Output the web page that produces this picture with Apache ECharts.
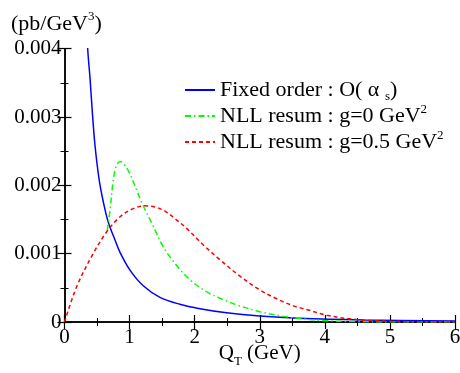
<!DOCTYPE html>
<html>
<head>
<meta charset="utf-8">
<script src="https://cdn.jsdelivr.net/npm/echarts@6/dist/echarts.min.js"></script>
<style>
  html, body { margin: 0; padding: 0; background: #fff; }
  #container { width: 460px; height: 373px; }
</style>
</head>
<body>
<div id="container"></div>
<script>
// values
const xTicks = [0, 1, 2, 3, 4, 5, 6];
const yTicks = [0, 0.001, 0.002, 0.003, 0.004];

const qFixed = [0.30, 0.356, 0.392, 0.427, 0.468, 0.53, 0.596, 0.673, 0.776, 0.853, 1.006, 1.21, 1.467, 1.77, 2.08, 2.49, 3.0, 3.6, 4.6, 6.0];
const fixedOrder = [0.0050, 0.0040, 0.00357, 0.00308, 0.00259, 0.0021, 0.00176, 0.00146, 0.00120, 0.00102, 0.00076, 0.00053, 0.00036, 0.00026, 0.000195, 0.000135, 0.000088, 0.000055, 0.00003, 0.000015];

const qG0 = [0.657, 0.70, 0.75, 0.80, 0.86, 0.92, 1.0, 1.1, 1.2, 1.34, 1.518, 1.72, 1.93, 2.18, 2.39, 2.645, 3.0, 3.26, 3.51, 4.0, 4.5, 5.0, 6.0];
const nllG0 = [0.00134, 0.00164, 0.00208, 0.00230, 0.00235, 0.00230, 0.00218, 0.00195, 0.00172, 0.00145, 0.0011, 0.00083, 0.000615, 0.000444, 0.000347, 0.00025, 0.000151, 0.0001, 0.000063, 0.00002, 0.000005, 0, 0];

const qG05 = [0, 0.187, 0.443, 0.648, 0.853, 1.057, 1.237, 1.40, 1.55, 1.70, 1.877, 2.13, 2.39, 2.67, 3.0, 3.26, 3.51, 3.745, 4.03, 4.44, 5.0, 6.0];
const nllG05 = [0, 0.000517, 0.001006, 0.00132, 0.00154, 0.00166, 0.0017, 0.00168, 0.00162, 0.00151, 0.00137, 0.00113, 0.00091, 0.00069, 0.00047, 0.00034, 0.00024, 0.000176, 0.0001, 0.00004, 0.00001, 0];

const FONT = "Liberation Serif";

function pairs(xs, ys) {
  return xs.map((x, i) => [x, ys[i]]);
}

const legendText = {
  fixed: "Fixed order : O( α {sub|s})",
  g0: "NLL resum : g=0 GeV{sup|2}",
  g05: "NLL resum : g=0.5 GeV{sup|2}",
};

const richText = {
  sub: { fontSize: 13, fontFamily: FONT, color: "#000", verticalAlign: "bottom", lineHeight: 26 },
  sup: { fontSize: 13, fontFamily: FONT, color: "#000", verticalAlign: "top", lineHeight: 26 },
};

const axisCommon = {
  type: "value",
  axisLine: { show: true, lineStyle: { color: "#000", width: 1.5 } },
  axisTick: { show: true, inside: true, length: 7, lineStyle: { color: "#000", width: 1.2 } },
  minorTick: { show: true, splitNumber: 2, length: 4, lineStyle: { color: "#000", width: 1 } },
  splitLine: { show: false },
};

const option = {
  animation: false,
  backgroundColor: "#fff",
  grid: { left: 64.5, right: 5, top: 48.7, bottom: 51, outerBoundsMode: "none", containLabel: false },
  title: {
    text: "(pb/GeV{sup|3})",
    left: 6,
    top: 5,
    textStyle: {
      fontFamily: FONT, fontSize: 22, fontWeight: "normal", color: "#000", lineHeight: 28,
      rich: { sup: { fontSize: 13, fontFamily: FONT, color: "#000", verticalAlign: "top", lineHeight: 28 } },
    },
  },
  legend: {
    orient: "vertical",
    left: 179,
    top: 72,
    itemWidth: 30,
    itemHeight: 10,
    itemGap: 0,
    data: ["fixed", "g0", "g05"],
    formatter: (name) => legendText[name],
    itemStyle: { opacity: 0 },
    textStyle: { fontFamily: FONT, fontSize: 22, color: "#000", lineHeight: 26, rich: richText },
  },
  xAxis: [
    {
      ...axisCommon,
      min: 0, max: 6, interval: 1,
      position: "bottom",
      name: "Q{sub|T} (GeV)",
      nameLocation: "middle",
      nameGap: 16,
      nameMoveOverlap: false,
      nameTextStyle: {
        fontFamily: FONT, fontSize: 21, color: "#000", lineHeight: 24,
        rich: { sub: { fontSize: 13, fontFamily: FONT, color: "#000", verticalAlign: "bottom", lineHeight: 30 } },
      },
      axisLabel: {
        fontFamily: FONT, fontSize: 21, color: "#000", margin: 5,
        formatter: (v) => (xTicks.includes(v) ? String(v) : ""),
      },
    },
    {
      ...axisCommon,
      min: 0, max: 6, interval: 1,
      position: "top",
      axisLabel: { show: false },
    },
  ],
  yAxis: [
    {
      ...axisCommon,
      min: 0, max: 0.004, interval: 0.001,
      position: "left",
      axisLabel: {
        fontFamily: FONT, fontSize: 21, color: "#000", margin: 3,
        formatter: (v) => {
          const t = yTicks.find((y) => Math.abs(y - v) < 1e-9);
          return t === undefined ? "" : t === 0 ? "0" : t.toFixed(3);
        },
      },
    },
    {
      ...axisCommon,
      min: 0, max: 0.004, interval: 0.001,
      position: "right",
      axisLabel: { show: false },
    },
  ],
  series: [
    {
      name: "fixed",
      type: "line",
      data: pairs(qFixed, fixedOrder),
      smooth: 0.35,
      showSymbol: false,
      symbol: "none",
      color: "#0000ff",
      lineStyle: { color: "#0000ff", width: 1.5, type: "solid" },
    },
    {
      name: "g0",
      type: "line",
      data: pairs(qG0, nllG0),
      smooth: 0.35,
      showSymbol: false,
      symbol: "none",
      color: "#00ff00",
      lineStyle: { color: "#00ff00", width: 1.5, type: [6, 3, 1.5, 3] },
    },
    {
      name: "g05",
      type: "line",
      data: pairs(qG05, nllG05),
      smooth: 0.35,
      showSymbol: false,
      symbol: "none",
      color: "#ff0000",
      lineStyle: { color: "#ff0000", width: 1.5, type: [4, 3] },
    },
  ],
};

const chart = echarts.init(document.getElementById("container"));
chart.setOption(option);
</script>
</body>
</html>
